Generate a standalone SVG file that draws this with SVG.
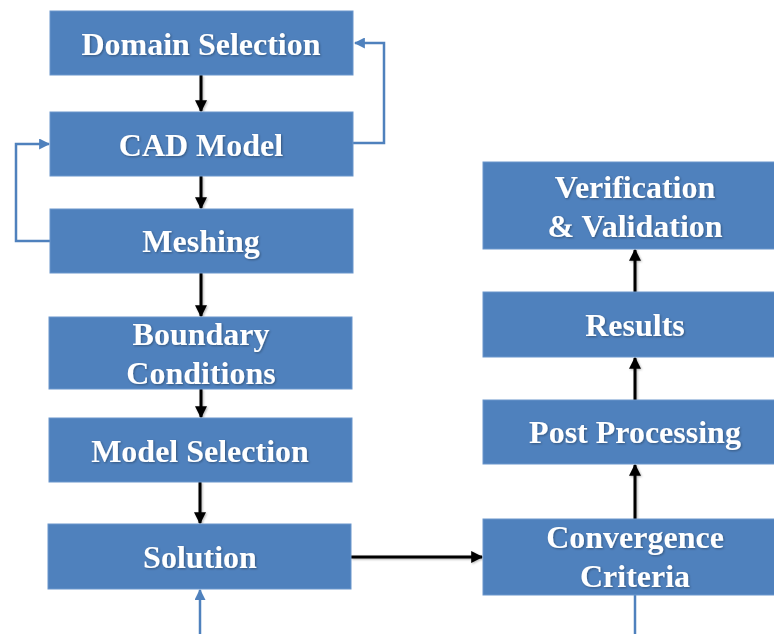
<svg xmlns="http://www.w3.org/2000/svg" width="774" height="634" viewBox="0 0 774 634">
  <defs>
    <style>
      .box { fill: #4F81BD; stroke: #6A96CC; stroke-width: 1; }
      .lbl { fill: #FFFFFF; font-family: "Liberation Serif", "Times New Roman", serif; font-weight: bold; font-size: 32px; text-anchor: middle; filter: url(#tshadow); }
      .flow { fill: none; stroke: #000000; stroke-width: 3; marker-end: url(#blackHead); }
      .loop { fill: none; stroke: #4F81BD; stroke-width: 2.5; }
      .loopArrow { fill: none; stroke: #4F81BD; stroke-width: 2.5; marker-end: url(#blueHead); }
    </style>
    <marker id="blackHead" viewBox="0 0 10 10" refX="9" refY="5" markerWidth="4" markerHeight="4" orient="auto" markerUnits="strokeWidth">
      <path d="M0,0 L10,5 L0,10 z" fill="#000000"/>
    </marker>
    <marker id="blueHead" viewBox="0 0 10 10" refX="9" refY="5" markerWidth="4.4" markerHeight="4.4" orient="auto" markerUnits="strokeWidth">
      <path d="M0,0 L10,5 L0,10 z" fill="#4F81BD"/>
    </marker>
    <filter id="tshadow" x="-10%" y="-20%" width="120%" height="140%">
      <feDropShadow dx="1" dy="1" stdDeviation="0.8" flood-color="#000000" flood-opacity="0.35"/>
    </filter>
    <!-- soft shadow under the black flow arrows; user-space region so thin lines keep their area -->
    <filter id="lshadow" filterUnits="userSpaceOnUse" x="0" y="0" width="774" height="634">
      <feDropShadow dx="1" dy="1" stdDeviation="1" flood-color="#000000" flood-opacity="0.3"/>
    </filter>
  </defs>
  <rect width="774" height="634" fill="#FFFFFF"/>

  <g id="connectors">
    <g filter="url(#lshadow)">
      <!-- main downward chain, left column -->
      <line class="flow" x1="201" y1="75" x2="201" y2="111"/>
      <line class="flow" x1="201" y1="176" x2="201" y2="208"/>
      <line class="flow" x1="201" y1="273" x2="201" y2="316"/>
      <line class="flow" x1="201" y1="389" x2="201" y2="417"/>
      <line class="flow" x1="200" y1="482" x2="200" y2="523"/>
      <!-- solution to convergence -->
      <line class="flow" x1="351" y1="557" x2="482" y2="557"/>
      <!-- upward chain, right column -->
      <line class="flow" x1="635" y1="519" x2="635" y2="465"/>
      <line class="flow" x1="635" y1="400" x2="635" y2="358"/>
      <line class="flow" x1="635" y1="292" x2="635" y2="250"/>
    </g>
    <!-- feedback loops -->
    <polyline class="loopArrow" points="353,143 384,143 384,43 355,43"/>
    <polyline class="loopArrow" points="50,241 16,241 16,144 49,144"/>
    <line class="loopArrow" x1="200" y1="634" x2="200" y2="590"/>
    <line class="loop" x1="635" y1="595" x2="635" y2="634"/>
  </g>

  <g id="domain-selection">
    <rect class="box" x="50" y="11" width="303" height="64"/>
    <text class="lbl" x="201" y="55">Domain Selection</text>
  </g>
  <g id="cad-model">
    <rect class="box" x="50" y="112" width="303" height="64"/>
    <text class="lbl" x="201" y="156">CAD Model</text>
  </g>
  <g id="meshing">
    <rect class="box" x="50" y="209" width="303" height="64"/>
    <text class="lbl" x="201" y="252">Meshing</text>
  </g>
  <g id="boundary-conditions">
    <rect class="box" x="49" y="317" width="303" height="72"/>
    <text class="lbl" x="201" y="345">Boundary</text>
    <text class="lbl" x="201" y="384">Conditions</text>
  </g>
  <g id="model-selection">
    <rect class="box" x="49" y="418" width="303" height="64"/>
    <text class="lbl" x="200" y="462">Model Selection</text>
  </g>
  <g id="solution">
    <rect class="box" x="48" y="524" width="303" height="65"/>
    <text class="lbl" x="200" y="568">Solution</text>
  </g>
  <g id="verification-validation">
    <rect class="box" x="483" y="162" width="304" height="87"/>
    <text class="lbl" x="635" y="198">Verification</text>
    <text class="lbl" x="635" y="237">&amp; Validation</text>
  </g>
  <g id="results">
    <rect class="box" x="483" y="292" width="304" height="65"/>
    <text class="lbl" x="635" y="336">Results</text>
  </g>
  <g id="post-processing">
    <rect class="box" x="483" y="400" width="304" height="64"/>
    <text class="lbl" x="635" y="443">Post Processing</text>
  </g>
  <g id="convergence-criteria">
    <rect class="box" x="483" y="519" width="304" height="76"/>
    <text class="lbl" x="635" y="548">Convergence</text>
    <text class="lbl" x="635" y="587">Criteria</text>
  </g>
</svg>
